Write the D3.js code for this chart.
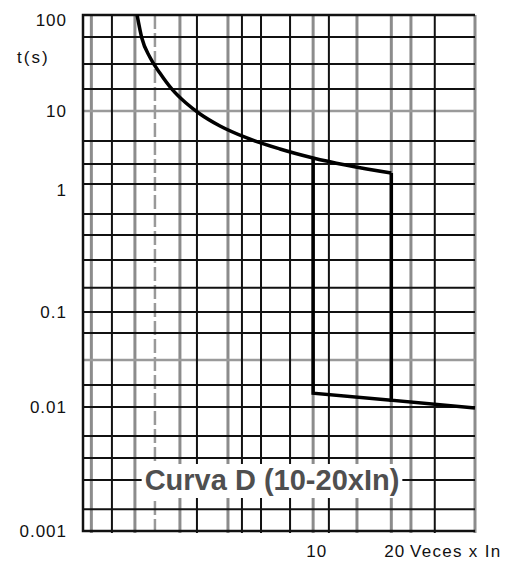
<!DOCTYPE html>
<html>
<head>
<meta charset="utf-8">
<script src="https://cdn.jsdelivr.net/npm/d3@7"></script>
<style>
  body { margin: 0; background: #fff; }
  svg { display: block; font-family: "Liberation Sans", Arial, sans-serif; }
</style>
</head>
<body>
<svg></svg>
<script>
const width = 517;
const height = 562;
const padLeft = 83, padRight = 475, padTop = 15, padBottom = 531;

// axis ticks
const yTicks = [0.001, 0.01, 0.1, 1, 10, 100];
const yTickLabels = ['0.001', '0.01', '0.1', '1', '10', '100'];
const xTicks = [10, 20];
const xTickLabels = ['10', '20'];

// grid lines (x in "veces x In", y in seconds)
const xGridDark = [1.68, 3.57, 5.32, 6.30, 8.15, 11.5, 29.4];
const xGridLight = [1.40, 2.06, 3.07, 4.70, 10, 14.75, 20, 23.8];
const xGridDashed = [2.46];
const yGridDark = [59.0, 30.9, 16.9, 3.93, 1.92, 1.03, 0.591, 0.404, 0.257, 0.155, 0.1,
                   0.0601, 0.0170, 0.01, 0.00583, 0.00388, 0.00258, 0.00150];
const yGridLight = [10, 0.0312];

// tripping curve D
const curveX = [2.10, 2.19, 2.35, 2.57, 2.86, 3.24, 3.67, 4.38, 5.56, 7.45, 10, 20];
const curveT = [100, 57.6, 36.5, 24.9, 16.9, 12.1, 9.11, 6.27, 4.32, 3.07, 2.32, 1.45];
const upperX = [20, 20, 42];
const upperT = [1.45, 0.0118, 0.00982];
const lowerX = [10, 10, 20];
const lowerT = [2.32, 0.0140, 0.0118];

let xScale = d3.scaleLog()
               .domain([1.3, 42])
               .range([padLeft, padRight]);

// the scan is not a clean log paper, so each decade gets its own span
let yScale = d3.scaleLog()
               .domain(yTicks)
               .range([531, 407, 312, 185, 111, 15]);

let svg = d3.select('svg')
            .attr('width', width)
            .attr('height', height);

// grid
svg.selectAll('line.gx-light')
  .data(xGridLight.concat([42]))
  .enter()
  .append('line')
    .attr('x1', d => xScale(d))
    .attr('x2', d => xScale(d))
    .attr('y1', padTop)
    .attr('y2', padBottom + 2)
    .attr('stroke', '#8c8c8c')
    .attr('stroke-width', 3);

svg.selectAll('line.gx-dash')
  .data(xGridDashed)
  .enter()
  .append('line')
    .attr('x1', d => xScale(d))
    .attr('x2', d => xScale(d))
    .attr('y1', padTop)
    .attr('y2', padBottom)
    .attr('stroke', '#999')
    .attr('stroke-width', 2.5)
    .attr('stroke-dasharray', '14,4');

svg.selectAll('line.gy-light')
  .data(yGridLight)
  .enter()
  .append('line')
    .attr('x1', padLeft)
    .attr('x2', padRight)
    .attr('y1', d => yScale(d))
    .attr('y2', d => yScale(d))
    .attr('stroke', '#9a9a9a')
    .attr('stroke-width', 2.5);

svg.selectAll('line.gx-dark')
  .data(xGridDark)
  .enter()
  .append('line')
    .attr('x1', d => xScale(d))
    .attr('x2', d => xScale(d))
    .attr('y1', padTop)
    .attr('y2', padBottom + 2)
    .attr('stroke', '#111')
    .attr('stroke-width', 2);

svg.selectAll('line.gy-dark')
  .data(yGridDark)
  .enter()
  .append('line')
    .attr('x1', padLeft)
    .attr('x2', padRight)
    .attr('y1', d => yScale(d))
    .attr('y2', d => yScale(d))
    .attr('stroke', '#111')
    .attr('stroke-width', 2);

// frame: top, bottom and left borders
svg.append('path')
  .attr('d', 'M' + padRight + ',' + yScale(100) + 'H' + padLeft + 'V' + yScale(0.001) + 'H' + padRight)
  .attr('fill', 'none')
  .attr('stroke', '#111')
  .attr('stroke-width', 2.5);

// curve
let line = d3.line()
             .x(d => xScale(d[0]))
             .y(d => yScale(d[1]));

svg.append('path')
  .datum(d3.zip(curveX, curveT))
  .attr('d', line.curve(d3.curveMonotoneX))
  .attr('fill', 'none')
  .attr('stroke', '#000')
  .attr('stroke-width', 3.5);

line.curve(d3.curveLinear);

[d3.zip(upperX, upperT), d3.zip(lowerX, lowerT)].forEach(pts => {
  svg.append('path')
    .datum(pts)
    .attr('d', line)
    .attr('fill', 'none')
    .attr('stroke', '#000')
    .attr('stroke-width', 3.5)
    .attr('stroke-linejoin', 'miter');
});

// Y axis labels
svg.append('g')
  .attr('transform', 'translate(' + (padLeft - 16) + ',0)')
  .call(d3.axisLeft(yScale)
          .tickValues(yTicks)
          .tickSize(0)
          .tickFormat((d, i) => yTickLabels[i]))
  .call(g => g.select('.domain').remove())
  .call(g => g.selectAll('text')
              .attr('x', 0)
              .attr('font-size', 17)
              .attr('font-family', '"Liberation Sans", Arial, sans-serif')
              .attr('letter-spacing', 1)
              .attr('fill', '#111'));

// nudge the labels of 100 and 1 down a little, as on the sheet
svg.selectAll('g text')
  .filter(d => d === 100 || d === 1)
  .attr('dy', '0.6em');

svg.append('text')
  .text('t(s)')
  .attr('x', 17)
  .attr('y', 63)
  .attr('font-size', 17)
  .attr('letter-spacing', 2)
  .attr('fill', '#111');

// X axis labels
svg.append('g')
  .attr('transform', 'translate(3,' + (padBottom + 11) + ')')
  .call(d3.axisBottom(xScale)
          .tickValues(xTicks)
          .tickSize(0)
          .tickFormat((d, i) => xTickLabels[i]))
  .call(g => g.select('.domain').remove())
  .call(g => g.selectAll('text')
              .attr('font-size', 17)
              .attr('font-family', '"Liberation Sans", Arial, sans-serif')
              .attr('letter-spacing', 1)
              .attr('fill', '#111'));

svg.append('text')
  .text('Veces x In')
  .attr('x', 410)
  .attr('y', 557)
  .attr('font-size', 17)
  .attr('letter-spacing', 1.3)
  .attr('fill', '#111');

// curve name with white box over the grid
let label = svg.append('text')
  .text('Curva D (10-20xIn)')
  .attr('x', 272)
  .attr('y', 490)
  .attr('text-anchor', 'middle')
  .attr('font-size', 29)
  .attr('font-weight', 'bold')
  .attr('fill', '#4f4f4f');

let bb = label.node().getBBox();
svg.insert('rect', () => label.node())
  .attr('x', bb.x - 3)
  .attr('y', bb.y)
  .attr('width', bb.width + 6)
  .attr('height', bb.height + 2)
  .attr('fill', '#fff');
</script>
</body>
</html>
